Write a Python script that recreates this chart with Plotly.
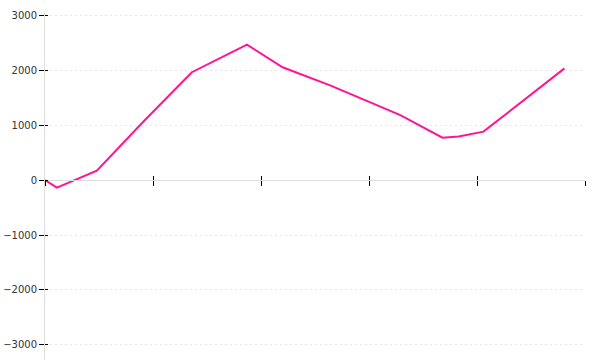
import plotly.graph_objects as go

x_vals = [0.0, 0.11, 0.48, 0.61, 0.91, 1.21, 1.36, 1.87, 2.20, 2.64, 3.29, 3.68, 3.83, 4.06, 4.81]
y_vals = [0, -140, 170, 440, 1060, 1660, 1960, 2460, 2050, 1720, 1180, 770, 790, 880, 2030]
y_ticks = [-3000, -2000, -1000, 0, 1000, 2000, 3000]
y_tick_labels = ["\u22123000", "\u22122000", "\u22121000", "0", "1000", "2000", "3000"]
x_ticks = [0, 1, 2, 3, 4, 5]

y_range = [-3273, 3055]
x_range = [0, 5]
zero_pos = (0 - y_range[0]) / (y_range[1] - y_range[0])

fig = go.Figure()
fig.add_trace(go.Scatter(x=x_vals, y=y_vals, mode="lines",
                         line=dict(color="#ff1493", width=2), hoverinfo="skip",
                         showlegend=False))
# invisible trace to anchor the overlay axes (for ticks crossing the axis lines)
fig.add_trace(go.Scatter(x=x_vals, y=y_vals, mode="lines", xaxis="x2", yaxis="y2",
                         line=dict(color="rgba(0,0,0,0)", width=0), hoverinfo="skip",
                         showlegend=False))

font = dict(family="DejaVu Sans", size=10, color="#333")

fig.update_layout(
    width=600, height=360,
    margin=dict(l=45, r=15, t=12, b=0),
    plot_bgcolor="white", paper_bgcolor="white",
    xaxis=dict(range=x_range, tickvals=x_ticks, showticklabels=False,
               ticks="outside", ticklen=5, tickcolor="#000", tickwidth=1,
               showline=True, linecolor="#dddddd", linewidth=1,
               showgrid=False, zeroline=False,
               anchor="free", position=zero_pos),
    xaxis2=dict(range=x_range, tickvals=x_ticks, showticklabels=False,
                ticks="inside", ticklen=4, tickcolor="#000", tickwidth=1,
                showline=False, showgrid=False, zeroline=False,
                overlaying="x", anchor="free", position=zero_pos),
    yaxis=dict(range=y_range, tickvals=y_ticks, ticktext=y_tick_labels,
               tickfont=font, ticks="outside", ticklen=5, tickcolor="#000",
               showline=True, linecolor="#dddddd", linewidth=1,
               showgrid=True, gridcolor="#e6e6e6", griddash="2px,3px", gridwidth=1,
               zeroline=False),
    yaxis2=dict(range=y_range, tickvals=y_ticks, showticklabels=False,
                ticks="inside", ticklen=3, tickcolor="#000",
                showline=False, showgrid=False, zeroline=False,
                overlaying="y", anchor="x"),
)

fig.write_html("out.html")
